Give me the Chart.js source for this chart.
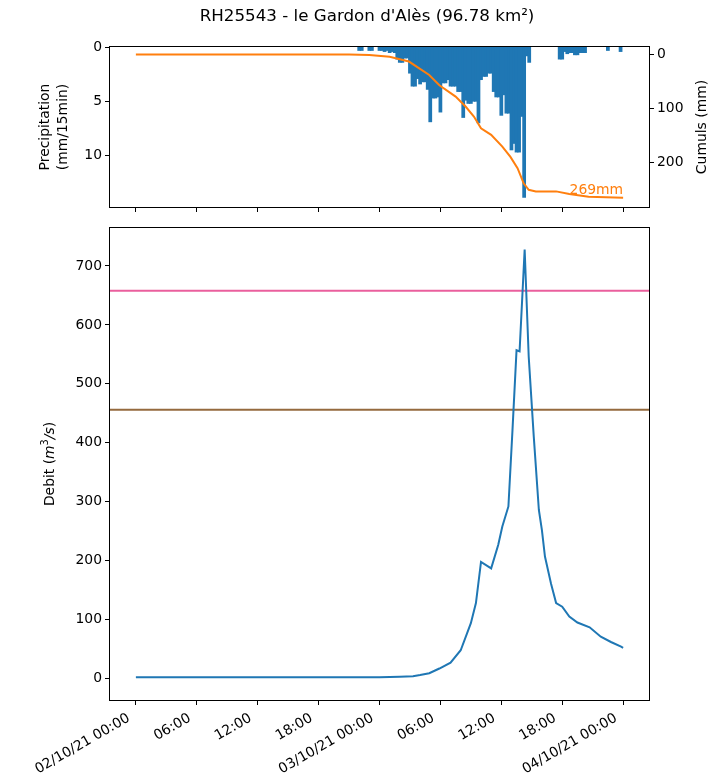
<!DOCTYPE html>
<html>
<head>
<meta charset="utf-8">
<script src="https://cdn.jsdelivr.net/npm/chart.js@4.4.0/dist/chart.umd.min.js"></script>
<style>
    body { margin: 0; background: #fff; font-family: "DejaVu Sans", sans-serif; }
    #wrap { position: relative; width: 720px; height: 783px; overflow: hidden; }
    #title { position: absolute; left: 0; width: 734px; top: 5px; text-align: center; font-size: 16.7px; color: #000; }
    #rainChart { position: absolute; left: 0; top: 0; }
    #debitChart { position: absolute; left: 0; top: 215px; }
</style>
</head>
<body>
<div id="wrap">
    <canvas id="rainChart" width="720" height="225"></canvas>
    <canvas id="debitChart" width="720" height="568"></canvas>
    <div id="title">RH25543 - le Gardon d'Alès (96.78 km²)</div>
</div>
<script>
// hours counted from 02/10/21 00:00
const hourTicks = [0, 6, 12, 18, 24, 30, 36, 42, 48];
const hourLabels = ['02/10/21 00:00', '06:00', '12:00', '18:00', '03/10/21 00:00', '06:00', '12:00', '18:00', '04/10/21 00:00'];
const xMin = -2.55;
const xMax = 50.55;

// precipitation (mm/15min)
const rainHours = [
    22.0, 22.25, 23.0, 23.25,
    24.0, 24.25, 24.5, 24.75, 25.0, 25.25, 25.5, 25.75,
    26.0, 26.25, 26.5, 26.75, 27.0, 27.25, 27.5, 27.75,
    28.0, 28.25, 28.5, 28.75, 29.0, 29.25, 29.5, 29.75,
    30.0, 30.25, 30.5, 30.75, 31.0, 31.25, 31.5, 31.75,
    32.0, 32.25, 32.5, 32.75, 33.0, 33.25, 33.5, 33.75,
    34.0, 34.25, 34.5, 34.75, 35.0, 35.25, 35.5, 35.75,
    36.0, 36.25, 36.5, 36.75, 37.0, 37.25, 37.5, 37.75,
    38.0, 38.25, 38.5, 38.75,
    41.75, 42.0, 42.25, 42.5, 42.75, 43.0, 43.25, 43.5,
    43.75, 44.0, 44.25, 46.5, 47.75
];
const rainValues = [
    0.3, 0.3, 0.3, 0.3,
    0.3, 0.3, 0.4, 0.3, 0.5, 0.4, 0.5, 1.1,
    1.4, 1.4, 1.0, 1.0, 2.4, 3.6, 3.6, 2.9,
    3.4, 3.2, 3.2, 3.9, 6.9, 4.7, 4.7, 4.6,
    6.0, 3.3, 3.3, 3.0, 3.6, 3.6, 3.6, 4.1,
    4.1, 6.5, 4.9, 5.2, 5.2, 5.0, 5.0, 7.0,
    3.0, 2.7, 2.7, 2.4, 2.4, 4.1, 4.6, 4.6,
    6.3, 4.4, 6.1, 6.1, 9.5, 8.9, 9.7, 9.7,
    6.4, 13.9, 0.8, 1.4,
    1.1, 1.1, 0.4, 0.6, 0.5, 0.5, 0.7, 0.7,
    0.5, 0.5, 0.5, 0.3, 0.4
];
const rainTicks = [0, 5, 10];

// cumulative rain (mm)
const cumulHours = [0, 12, 21, 23, 25, 26.9, 28.9, 29.9, 31.5, 32.5, 33.3, 34.0, 35.0, 36.1, 36.9, 37.6, 38.2, 38.7, 39.4, 41.4, 42.7, 44.6, 48];
const cumulValues = [0, 0, 0, 1, 4, 13, 38, 57, 78, 97, 115, 137, 149, 171, 190, 211, 239, 251, 254, 254, 259, 264, 266];
const cumulTicks = [0, 100, 200];
const cumulText = '269mm';

// discharge (m3/s)
const debitHours = [0, 6, 12, 18, 24, 26, 27.3, 28.0, 28.9, 29.9, 31.0, 32.0, 33.0, 33.5, 34.0, 35.0, 35.7, 36.1, 36.7, 37.1, 37.5, 37.8, 38.3, 38.7, 39.2, 39.7, 40.0, 40.3, 40.9, 41.4, 42.0, 42.7, 43.5, 44.7, 45.8, 46.8, 47.8, 48.0];
const debitValues = [2, 2, 2, 2, 2, 3, 4, 6, 9, 17, 27, 48, 94, 128, 198, 187, 227, 258, 292, 421, 557, 555, 728, 546, 410, 286, 252, 207, 161, 128, 122, 105, 95, 87, 71, 62, 54, 52];
const debitTicks = [0, 100, 200, 300, 400, 500, 600, 700];

// threshold lines
const seuilHaut = 658;
const seuilBas = 456;

Chart.defaults.font.family = '"DejaVu Sans", sans-serif';
Chart.defaults.font.size = 13.9;
Chart.defaults.color = '#000';

const tickFont = { family: '"DejaVu Sans", sans-serif', size: 13.9 };

function zip(xs, ys) {
    return xs.map((x, i) => ({ x: x, y: ys[i] }));
}

function fixTicks(values) {
    return function (scale) {
        scale.ticks = values.map(v => ({ value: v }));
    };
}

function tickGrid() {
    return { display: true, drawOnChartArea: false, drawTicks: true, tickLength: 5, color: '#000', lineWidth: 1, offset: false };
}

// draw the axes box like matplotlib
const framePlugin = {
    id: 'frame',
    afterDraw(chart) {
        const a = chart.chartArea;
        const ctx = chart.ctx;
        ctx.save();
        ctx.strokeStyle = '#000';
        ctx.lineWidth = 1;
        ctx.strokeRect(Math.round(a.left) - 0.5, Math.round(a.top) - 0.5,
            Math.round(a.right - a.left) + 1, Math.round(a.bottom - a.top) + 1);
        ctx.restore();
    }
};

// rotated axis label made of several pieces
function drawVertical(ctx, x, y, parts) {
    ctx.save();
    ctx.translate(x, y);
    ctx.rotate(-Math.PI / 2);
    let total = 0;
    parts.forEach(p => {
        ctx.font = p.font;
        p.w = ctx.measureText(p.text).width;
        total += p.w;
    });
    let cx = -total / 2;
    ctx.fillStyle = '#000';
    ctx.textAlign = 'left';
    ctx.textBaseline = 'middle';
    parts.forEach(p => {
        ctx.font = p.font;
        ctx.fillText(p.text, cx, p.dy || 0);
        cx += p.w;
    });
    ctx.restore();
}

const normal = '13.9px "DejaVu Sans"';
const italic = 'italic 13.9px "DejaVu Sans"';
const small = '9.7px "DejaVu Sans"';

const rainLabels = {
    id: 'rainLabels',
    afterDraw(chart) {
        const a = chart.chartArea;
        const ctx = chart.ctx;
        const cy = (a.top + a.bottom) / 2;
        drawVertical(ctx, 45, cy, [{ text: 'Precipitation', font: normal }]);
        drawVertical(ctx, 63, cy, [{ text: '(mm/15min)', font: normal }]);
        drawVertical(ctx, 702, cy, [{ text: 'Cumuls (mm)', font: normal }]);

        // total written at the end of the cumulative curve
        const meta = chart.getDatasetMeta(1);
        const last = meta.data[meta.data.length - 1];
        ctx.save();
        ctx.font = normal;
        ctx.fillStyle = '#ff7f0e';
        ctx.textAlign = 'right';
        ctx.textBaseline = 'alphabetic';
        ctx.fillText(cumulText, last.x, last.y - 4);
        ctx.restore();
    }
};

const debitLabel = {
    id: 'debitLabel',
    afterDraw(chart) {
        const a = chart.chartArea;
        drawVertical(chart.ctx, 50, (a.top + a.bottom) / 2, [
            { text: 'Debit (', font: normal },
            { text: 'm', font: italic },
            { text: '3', font: small, dy: -5 },
            { text: '/s', font: italic },
            { text: ')', font: normal }
        ]);
    }
};

const rainChart = new Chart(document.getElementById('rainChart'), {
    type: 'bar',
    data: {
        datasets: [
            {
                type: 'bar',
                data: zip(rainHours, rainValues),
                backgroundColor: '#1f77b4',
                borderWidth: 0,
                inflateAmount: 0.6,
                barPercentage: 1,
                categoryPercentage: 1,
                yAxisID: 'y',
                order: 2
            },
            {
                type: 'line',
                data: zip(cumulHours, cumulValues),
                borderColor: '#ff7f0e',
                borderWidth: 2,
                pointRadius: 0,
                fill: false,
                tension: 0,
                yAxisID: 'y2',
                order: 1
            }
        ]
    },
    options: {
        responsive: false,
        animation: false,
        layout: { padding: { top: 47, left: 0, right: 0, bottom: 0 } },
        plugins: { legend: { display: false }, tooltip: { enabled: false } },
        scales: {
            x: {
                type: 'linear',
                offset: false,
                min: xMin,
                max: xMax,
                afterBuildTicks: fixTicks(hourTicks),
                afterFit(scale) { scale.height = 18; },
                ticks: { callback: () => '', font: tickFont },
                grid: tickGrid(),
                border: { display: false }
            },
            y: {
                position: 'left',
                reverse: true,
                min: 0,
                max: 14.8,
                afterBuildTicks: fixTicks(rainTicks),
                afterFit(scale) { scale.width = 110; },
                ticks: { font: tickFont, padding: 3 },
                grid: tickGrid(),
                border: { display: false }
            },
            y2: {
                position: 'right',
                reverse: true,
                min: -14,
                max: 283,
                afterBuildTicks: fixTicks(cumulTicks),
                afterFit(scale) { scale.width = 71; },
                ticks: { font: tickFont, padding: 3 },
                grid: tickGrid(),
                border: { display: false }
            }
        }
    },
    plugins: [framePlugin, rainLabels]
});

const debitChart = new Chart(document.getElementById('debitChart'), {
    type: 'line',
    data: {
        datasets: [
            {
                data: zip(debitHours, debitValues),
                borderColor: '#1f77b4',
                borderWidth: 2,
                pointRadius: 0,
                tension: 0
            },
            {
                data: zip([xMin, xMax], [seuilHaut, seuilHaut]),
                borderColor: '#ea5f9d',
                borderWidth: 2,
                pointRadius: 0
            },
            {
                data: zip([xMin, xMax], [seuilBas, seuilBas]),
                borderColor: '#956a3e',
                borderWidth: 2,
                pointRadius: 0
            }
        ]
    },
    options: {
        responsive: false,
        animation: false,
        layout: { padding: { top: 13, left: 0, right: 71, bottom: 0 } },
        plugins: { legend: { display: false }, tooltip: { enabled: false } },
        scales: {
            x: {
                type: 'linear',
                offset: false,
                min: xMin,
                max: xMax,
                afterBuildTicks: fixTicks(hourTicks),
                afterFit(scale) { scale.height = 83; },
                ticks: {
                    font: tickFont,
                    autoSkip: false,
                    maxRotation: 30,
                    minRotation: 30,
                    padding: 5,
                    labelOffset: -7,
                    callback: (v) => hourLabels[hourTicks.indexOf(v)]
                },
                grid: tickGrid(),
                border: { display: false }
            },
            y: {
                min: -36.4,
                max: 764.4,
                afterBuildTicks: fixTicks(debitTicks),
                afterFit(scale) { scale.width = 110; },
                ticks: { font: tickFont, padding: 3 },
                grid: tickGrid(),
                border: { display: false }
            }
        }
    },
    plugins: [framePlugin, debitLabel]
});
</script>
</body>
</html>
